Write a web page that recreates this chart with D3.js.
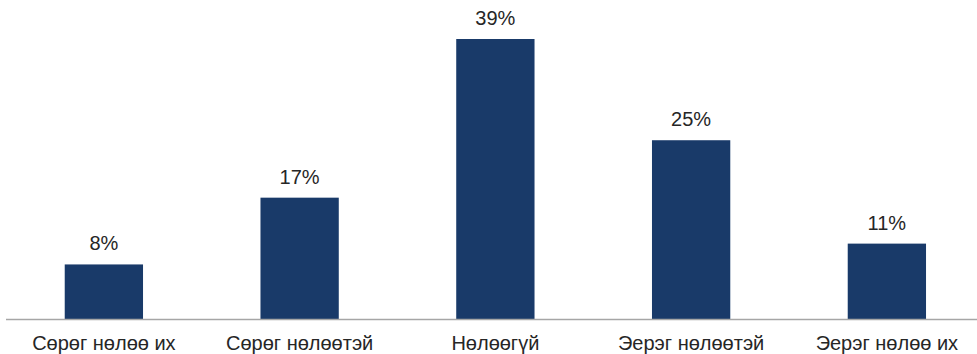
<!DOCTYPE html>
<html>
<head>
<meta charset="utf-8">
<script src="https://cdn.jsdelivr.net/npm/d3@7"></script>
<style>
  body { margin: 0; background: #ffffff; }
  text { font-family: "Liberation Sans", Arial, sans-serif; fill: #262626; }
</style>
</head>
<body>
<div id="chart"></div>
<script>
// categories and shares (percent)
const categories = ["Сөрөг нөлөө их", "Сөрөг нөлөөтэй", "Нөлөөгүй", "Эерэг нөлөөтэй", "Эерэг нөлөө их"];
const shares = [7.6, 16.9, 39.0, 24.9, 10.5];

const width = 977, height = 354;
const margin = {top: 39, bottom: 35, left: 6};
const baseY = height - margin.bottom;

const svg = d3.select("#chart")
    .append("svg")
    .attr("width", width)
    .attr("height", height);

const data = categories.map((c, i) => ({cat: c, val: shares[i]}));

// band scale runs a bit past the right edge, like the original
const x = d3.scaleBand()
    .domain(categories)
    .range([margin.left, margin.left + 5 * 195.75])
    .paddingInner(0.6)
    .paddingOuter(0.3);

const y = d3.scaleLinear()
    .domain([0, 39])
    .range([baseY, margin.top]);

// bars
svg.selectAll("rect.bar")
    .data(data)
    .enter().append("rect")
    .attr("class", "bar")
    .attr("x", d => x(d.cat))
    .attr("y", d => y(d.val))
    .attr("width", x.bandwidth())
    .attr("height", d => baseY - y(d.val))
    .attr("fill", "#193a69");

// value labels
svg.selectAll("text.val")
    .data(data)
    .enter().append("text")
    .attr("class", "val")
    .attr("x", d => x(d.cat) + x.bandwidth() / 2)
    .attr("y", d => y(d.val) - 14)
    .attr("text-anchor", "middle")
    .style("font-size", "20px")
    .text(d => Math.round(d.val) + "%");

// x axis: just the baseline plus the category names
svg.append("line")
    .attr("x1", margin.left)
    .attr("x2", width)
    .attr("y1", baseY + 0.5)
    .attr("y2", baseY + 0.5)
    .attr("stroke", "#a6a6a6")
    .attr("stroke-width", 1.5);

svg.selectAll("text.cat")
    .data(data)
    .enter().append("text")
    .attr("class", "cat")
    .attr("x", d => x(d.cat) + x.bandwidth() / 2)
    .attr("y", baseY + 31)
    .attr("text-anchor", "middle")
    .style("font-size", "20px")
    .text(d => d.cat);
</script>
</body>
</html>
